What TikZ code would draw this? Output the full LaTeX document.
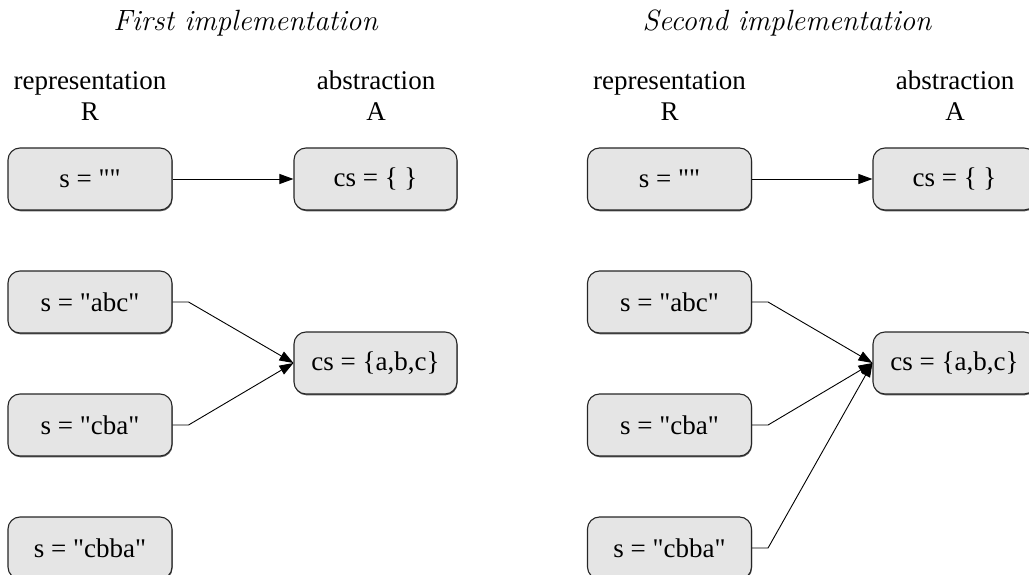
\documentclass[tikz,border=0pt]{standalone}
\usepackage{fontspec}
\setmainfont{Liberation Serif}[Ligatures=TeXOff]
\newfontfamily\lmfont{Latin Modern Roman}
\usetikzlibrary{arrows.meta,shadows}
\tikzset{
  box/.style={draw=black!85, line width=1.1pt, fill=black!10, rounded corners=12pt,
    minimum width=164pt, minimum height=62pt, inner sep=0pt,
    font=\fontsize{27}{32}\selectfont,
    drop shadow={shadow xshift=0.5pt, shadow yshift=-1.3pt, fill=black!65, opacity=1}},
  abox/.style={box, minimum width=163pt},
  lbl/.style={anchor=base, inner sep=0pt, font=\fontsize{27}{32}\selectfont},
  ttl/.style={anchor=base, inner sep=0pt, font=\lmfont\itshape\fontsize{29.3}{34}\selectfont},
  conn/.style={draw=black, line width=0.9pt, -{Triangle[length=14pt,width=10pt]}},
}
\begin{document}
\begin{tikzpicture}[x=1pt,y=-1pt]
\useasboundingbox (0,0) rectangle (1029,575);
\clip (0,0) rectangle (1029,575);
% ---------- First implementation ----------
\node[ttl] (t1) at (245.5,30.5) {First implementation};
\node[lbl] (r1) at (90,90) {representation};
\node[lbl] (rr1) at (90,121) {R};
\node[lbl] (a1) at (376,90) {abstraction};
\node[lbl] (aa1) at (376,121) {A};
\node[box] (e1) at (90,179) {s = ""};
\node[box] (abc1) at (90,302) {s = "abc"};
\node[box] (cba1) at (90,425) {s = "cba"};
\node[box] (cbba1) at (90,548) {s = "cbba"};
\node[abox] (em1) at (375.5,179) {cs = \{ \}};
\node[abox] (set1) at (375.5,363) {cs = \{a,b,c\}};
\draw[conn] (e1.east) -- (em1.west);
\draw[conn] (abc1.east) -- ++(16,0) -- (set1.west);
\draw[conn] (cba1.east) -- ++(16,0) -- (set1.west);
% ---------- Second implementation ----------
\node[ttl] (t2) at (787,30.5) {Second implementation};
\node[lbl] (r2) at (669.5,90) {representation};
\node[lbl] (rr2) at (669.5,121) {R};
\node[lbl] (a2) at (955,90) {abstraction};
\node[lbl] (aa2) at (955,121) {A};
\node[box] (e2) at (669.5,179) {s = ""};
\node[box] (abc2) at (669.5,302) {s = "abc"};
\node[box] (cba2) at (669.5,425) {s = "cba"};
\node[box] (cbba2) at (669.5,548) {s = "cbba"};
\node[abox] (em2) at (954.5,179) {cs = \{ \}};
\node[abox] (set2) at (954.5,363) {cs = \{a,b,c\}};
\draw[conn] (e2.east) -- (em2.west);
\draw[conn] (abc2.east) -- ++(16,0) -- (set2.west);
\draw[conn] (cba2.east) -- ++(16,0) -- (set2.west);
\draw[conn] (cbba2.east) -- ++(16,0) -- (set2.west);
\end{tikzpicture}
\end{document}
